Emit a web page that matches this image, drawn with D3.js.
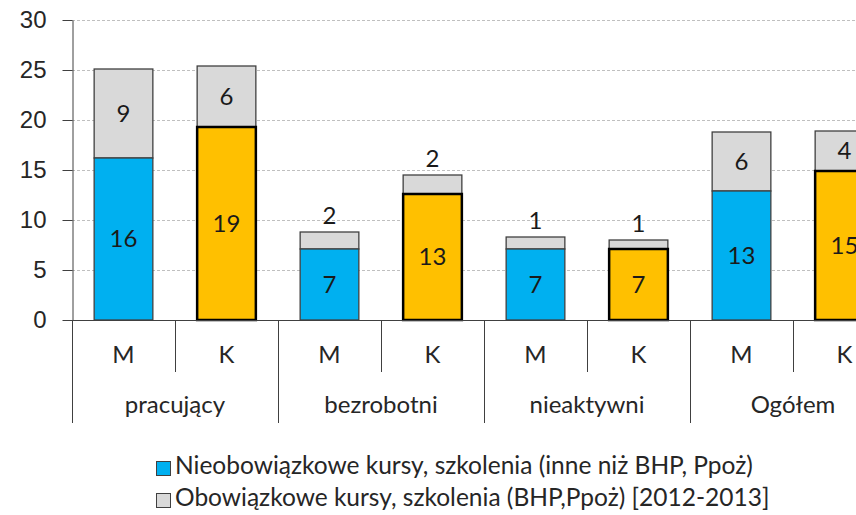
<!DOCTYPE html>
<html>
<head>
<meta charset="utf-8">
<script src="https://cdn.jsdelivr.net/npm/d3@7"></script>
<style>
  body { margin: 0; background: #fff; }
  svg { display: block; font-family: Lato, "Noto Sans", sans-serif; }
</style>
</head>
<body>
<svg id="chart" width="856" height="515"></svg>
<script>
// data
const groups = ["pracujący", "bezrobotni", "nieaktywni", "Ogółem"];
const sexes = ["M", "K"];
// blue/yellow part: Nieobowiązkowe kursy
const optional = [16.2, 19.3, 7.1, 12.6, 7.1, 7.1, 12.9, 14.9];
// grey part: Obowiązkowe kursy (BHP, Ppoż)
const mandatory = [8.9, 6.1, 1.7, 1.9, 1.2, 0.9, 5.9, 4.0];
const yTicks = [0, 5, 10, 15, 20, 25, 30];
const legendLabels = [
  "Nieobowiązkowe kursy, szkolenia (inne niż BHP, Ppoż)",
  "Obowiązkowe kursy, szkolenia (BHP,Ppoż) [2012-2013]"
];

const rows = [];
groups.forEach((g, gi) => sexes.forEach((s, si) => {
  const i = gi * 2 + si;
  rows.push({ key: g + "|" + s, group: g, sex: s, a: optional[i], b: mandatory[i] });
}));

const svg = d3.select("#chart");
const margin = { left: 72, top: 20 };
const baseY = 320;
const step = 103;
const fs = "24px";

const x = d3.scaleBand()
  .domain(rows.map(d => d.key))
  .range([margin.left, margin.left + step * rows.length])
  .paddingInner(0.43)
  .paddingOuter(0.215);

const y = d3.scaleLinear().domain([0, 30]).range([baseY, margin.top]);

// gridlines
svg.append("g")
  .selectAll("line")
  .data(yTicks.filter(t => t > 0))
  .join("line")
    .attr("x1", margin.left).attr("x2", 856)
    .attr("y1", d => y(d) + 0.5).attr("y2", d => y(d) + 0.5)
    .attr("stroke", "#bfbfbf")
    .attr("stroke-dasharray", "3,2");

// y axis
const yAxis = svg.append("g")
  .attr("transform", "translate(" + (margin.left + 0.5) + ",0)")
  .call(d3.axisLeft(y).tickValues(yTicks).tickSize(10).tickSizeOuter(0).tickPadding(16));
yAxis.select(".domain").attr("stroke", "#404040");
yAxis.selectAll(".tick line").attr("stroke", "#404040");
yAxis.selectAll(".tick text").attr("fill", "#262626").style("font-size", fs);

// bars
const bars = svg.append("g").selectAll("g").data(rows).join("g");

bars.append("rect")
  .attr("x", d => x(d.key))
  .attr("width", x.bandwidth())
  .attr("y", d => y(d.a + d.b))
  .attr("height", d => y(d.a) - y(d.a + d.b))
  .attr("fill", "#d9d9d9")
  .attr("stroke", "#404040")
  .attr("stroke-width", 1.3);

bars.append("rect")
  .attr("x", d => x(d.key))
  .attr("width", x.bandwidth())
  .attr("y", d => y(d.a))
  .attr("height", d => y(0) - y(d.a))
  .attr("fill", d => d.sex === "M" ? "#00b0f0" : "#ffc000")
  .attr("stroke", d => d.sex === "M" ? "#404040" : "#000")
  .attr("stroke-width", d => d.sex === "M" ? 1.3 : 2.5);

// value labels
bars.append("text")
  .attr("x", d => x(d.key) + x.bandwidth() / 2)
  .attr("y", d => (y(d.a) + y(0)) / 2)
  .attr("dy", "0.35em")
  .attr("text-anchor", "middle")
  .style("font-size", fs)
  .attr("fill", "#1a1a1a")
  .text(d => d3.format(".0f")(d.a));

bars.append("text")
  .attr("x", d => x(d.key) + x.bandwidth() / 2)
  .attr("y", d => d.b >= 3 ? (y(d.a) + y(d.a + d.b)) / 2 : y(d.a + d.b) - 16)
  .attr("dy", "0.35em")
  .attr("text-anchor", "middle")
  .style("font-size", fs)
  .attr("fill", "#1a1a1a")
  .text(d => d3.format(".0f")(d.b));

// category axis: baseline, separators, labels
const axisG = svg.append("g");
axisG.append("line")
  .attr("x1", margin.left).attr("x2", 856)
  .attr("y1", baseY + 0.5).attr("y2", baseY + 0.5)
  .attr("stroke", "#404040");

const edges = d3.range(rows.length + 1).map(i => margin.left + i * step);
axisG.selectAll("line.sep")
  .data(edges)
  .join("line")
    .attr("class", "sep")
    .attr("x1", d => Math.round(d) + 0.5).attr("x2", d => Math.round(d) + 0.5)
    .attr("y1", baseY)
    .attr("y2", (d, i) => i % 2 === 0 ? 423 : 372)
    .attr("stroke", "#404040");

axisG.selectAll("text.sex")
  .data(rows)
  .join("text")
    .attr("class", "sex")
    .attr("x", d => x(d.key) + x.bandwidth() / 2)
    .attr("y", 355)
    .attr("dy", "0.35em")
    .attr("text-anchor", "middle")
    .style("font-size", fs)
    .attr("fill", "#262626")
    .text(d => d.sex);

axisG.selectAll("text.group")
  .data(groups)
  .join("text")
    .attr("class", "group")
    .attr("x", (d, i) => margin.left + (i * 2 + 1) * step)
    .attr("y", 405)
    .attr("dy", "0.35em")
    .attr("text-anchor", "middle")
    .style("font-size", fs)
    .attr("fill", "#262626")
    .text(d => d);

// legend
const legendColors = ["#00b0f0", "#d9d9d9"];
const legend = svg.append("g").selectAll("g")
  .data(legendLabels)
  .join("g")
    .attr("transform", (d, i) => "translate(156," + (461 + i * 32) + ")");
legend.append("rect")
  .attr("x", 0.5).attr("y", 0.5)
  .attr("width", 14).attr("height", 14)
  .attr("fill", (d, i) => legendColors[i])
  .attr("stroke", "#404040");
legend.append("text")
  .attr("x", 19).attr("y", 13)
  .style("font-size", "24.5px")
  .attr("fill", "#262626")
  .text(d => d);
</script>
</body>
</html>
